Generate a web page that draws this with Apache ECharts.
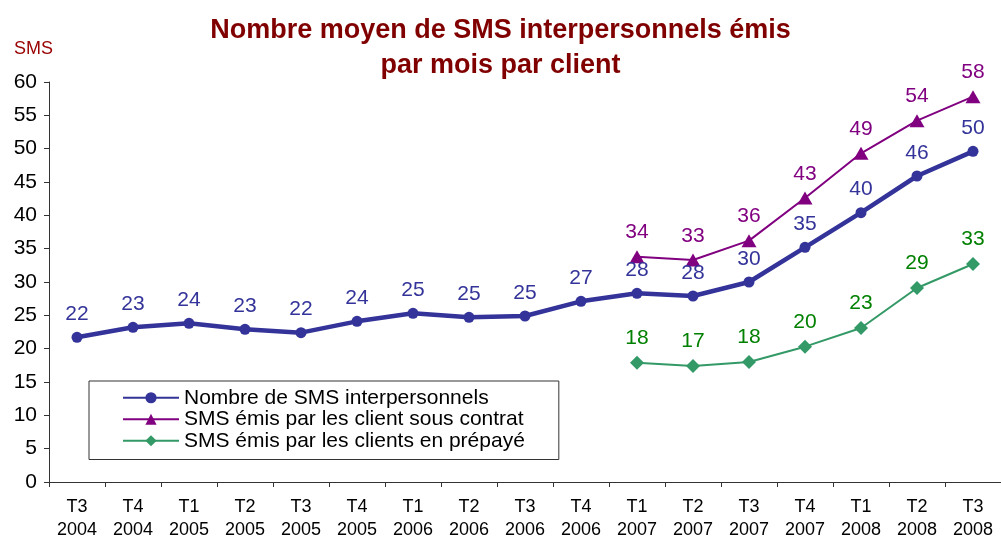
<!DOCTYPE html>
<html>
<head>
<meta charset="utf-8">
<script src="https://cdn.jsdelivr.net/npm/echarts@6/dist/echarts.min.js"></script>
<style>
  html, body { margin: 0; padding: 0; background: #fff; }
  #chart { width: 1001px; height: 542px; }
</style>
</head>
<body>
<div id="chart"></div>
<script>
// trimestres
const quarters = ['T3\n2004', 'T4\n2004', 'T1\n2005', 'T2\n2005', 'T3\n2005', 'T4\n2005',
  'T1\n2006', 'T2\n2006', 'T3\n2006', 'T4\n2006', 'T1\n2007', 'T2\n2007', 'T3\n2007',
  'T4\n2007', 'T1\n2008', 'T2\n2008', 'T3\n2008']

const smsTotal = [21.7, 23.2, 23.8, 22.9, 22.4, 24.1, 25.3, 24.7, 24.9, 27.1, 28.3, 27.9, 30.0, 35.2, 40.4, 45.9, 49.6]
const smsContrat = [null, null, null, null, null, null, null, null, null, null, 33.8, 33.3, 36.2, 42.6, 49.3, 54.2, 57.8]
const smsPrepaye = [null, null, null, null, null, null, null, null, null, null, 17.9, 17.4, 18.0, 20.3, 23.1, 29.1, 32.7]

const font = '"Liberation Sans", Arial, sans-serif'
const chart = echarts.init(document.getElementById('chart'))

function labelStyle(color) {
  return {
    show: true,
    position: 'top',
    distance: 7,
    color: color,
    fontSize: 21,
    fontFamily: font,
    formatter: p => Math.round(p.value)
  }
}

const option = {
  animation: false,
  textStyle: { fontFamily: font },
  title: {
    text: 'Nombre moyen de SMS interpersonnels émis\npar mois par client',
    left: 'center',
    top: 8,
    textStyle: { color: '#800000', fontSize: 27, fontWeight: 'bold', lineHeight: 35, fontFamily: font }
  },
  legend: {
    orient: 'vertical',
    left: 89,
    top: 381,
    itemWidth: 56,
    itemHeight: 14,
    itemGap: 0,
    padding: [6, 34, 8, 33],
    borderColor: '#333',
    borderWidth: 1,
    textStyle: { color: '#000', fontSize: 21, lineHeight: 21.5, fontFamily: font },
    data: ['Nombre de SMS interpersonnels', 'SMS émis par les client sous contrat', 'SMS émis par les clients en prépayé']
  },
  grid: { left: 49, right: 0, top: 82, bottom: 60, containLabel: false },
  xAxis: {
    type: 'category',
    data: quarters,
    boundaryGap: true,
    axisLine: { lineStyle: { color: '#333' } },
    axisTick: { show: true, length: 5, inside: false, lineStyle: { color: '#333' } },
    axisLabel: { color: '#000', fontSize: 18, fontFamily: font, margin: 14, lineHeight: 23, interval: 0 }
  },
  yAxis: {
    type: 'value',
    min: 0,
    max: 60,
    interval: 5,
    name: 'SMS',
    nameLocation: 'end',
    nameGap: 24,
    nameTextStyle: { color: '#990000', fontSize: 18, fontFamily: font, align: 'right', padding: [0, -4, 0, 0] },
    axisLine: { show: true, lineStyle: { color: '#333' } },
    axisTick: { show: true, length: 5, lineStyle: { color: '#333' } },
    axisLabel: { color: '#000', fontSize: 21, fontFamily: font, margin: 12 },
    splitLine: { show: false }
  },
  series: [
    {
      name: 'Nombre de SMS interpersonnels',
      type: 'line',
      data: smsTotal,
      symbol: 'circle',
      symbolSize: 11,
      lineStyle: { color: '#333399', width: 4.5 },
      itemStyle: { color: '#333399' },
      label: labelStyle('#333399'),
      z: 3
    },
    {
      name: 'SMS émis par les client sous contrat',
      type: 'line',
      data: smsContrat,
      symbol: 'triangle',
      symbolSize: [15, 13],
      lineStyle: { color: '#800080', width: 2 },
      itemStyle: { color: '#800080' },
      label: labelStyle('#800080')
    },
    {
      name: 'SMS émis par les clients en prépayé',
      type: 'line',
      data: smsPrepaye,
      symbol: 'diamond',
      symbolSize: 14,
      lineStyle: { color: '#339966', width: 2 },
      itemStyle: { color: '#339966' },
      label: labelStyle('#008000')
    }
  ]
}

chart.setOption(option)
</script>
</body>
</html>
